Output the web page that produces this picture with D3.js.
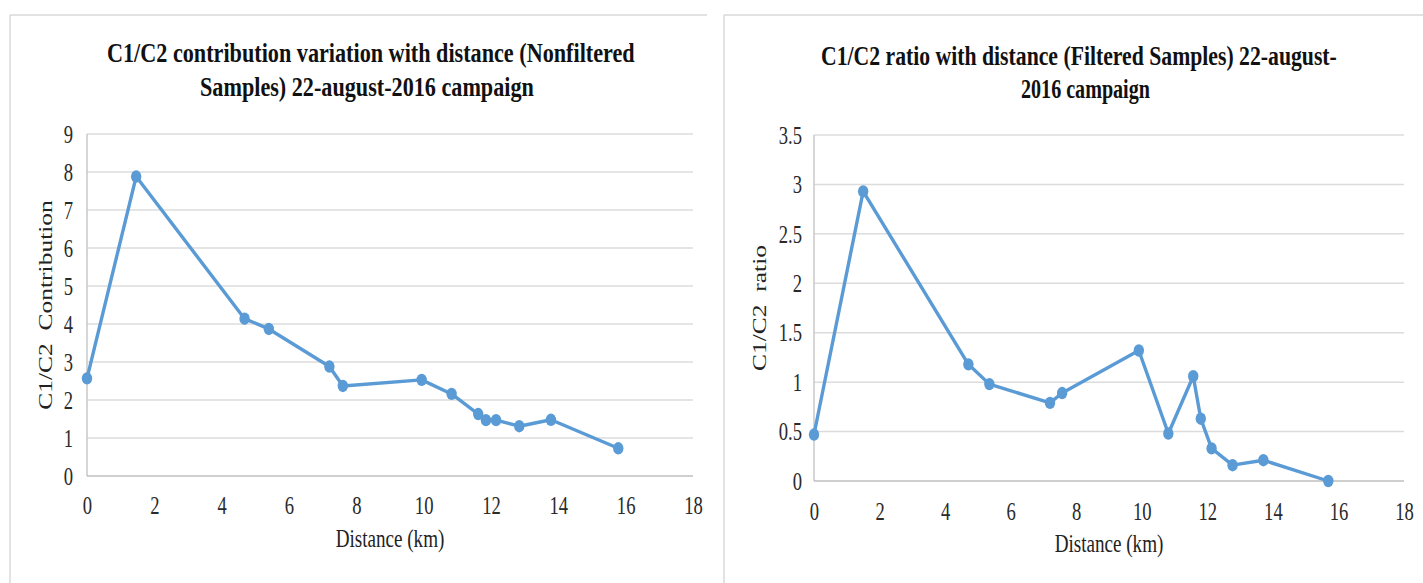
<!DOCTYPE html>
<html>
<head>
<meta charset="utf-8">
<script src="https://cdn.jsdelivr.net/npm/d3@7"></script>
<style>
  html, body { margin: 0; padding: 0; background: #fff; }
  svg { display: block; }
  text { font-family: "Liberation Serif", "Times New Roman", serif; }
</style>
</head>
<body>
<svg id="chart" width="1423" height="583"></svg>
<script>
// ---- data ----
const distanceNonfiltered = [0, 1.46, 4.68, 5.4, 7.2, 7.6, 9.94, 10.83, 11.62, 11.85, 12.15, 12.84, 13.78, 15.78];
const contribution        = [2.57, 7.88, 4.14, 3.87, 2.88, 2.37, 2.53, 2.16, 1.63, 1.47, 1.47, 1.31, 1.48, 0.73];
const distanceFiltered    = [0, 1.5, 4.71, 5.35, 7.2, 7.57, 9.91, 10.81, 11.57, 11.8, 12.13, 12.77, 13.71, 15.69];
const ratio               = [0.47, 2.93, 1.18, 0.98, 0.79, 0.89, 1.32, 0.48, 1.06, 0.63, 0.33, 0.16, 0.21, 0];
const xTicks = [0, 2, 4, 6, 8, 10, 12, 14, 16, 18];
const yTicksContribution = [0, 1, 2, 3, 4, 5, 6, 7, 8, 9];
const yTicksRatio = [0, 0.5, 1, 1.5, 2, 2.5, 3, 3.5];
const titleNonfiltered = ["C1/C2 contribution variation with distance (Nonfiltered", "Samples) 22-august-2016 campaign"];
const titleFiltered = ["C1/C2 ratio with distance (Filtered Samples) 22-august-", "2016 campaign"];

const svg = d3.select("#chart");
const SX = 0.73;        // horizontal squeeze of the lettering
const FS = 25.5;        // base font size
const lineColor = "#5b9bd5";

// panel borders
function panelBorder(x0, x1) {
  svg.append("line").attr("x1", x0).attr("x2", x1).attr("y1", 15).attr("y2", 15)
    .attr("stroke", "#d9d9d9").attr("stroke-width", 1.5);
  svg.append("line").attr("x1", x0).attr("x2", x0).attr("y1", 15).attr("y2", 583)
    .attr("stroke", "#d9d9d9").attr("stroke-width", 1.5);
}
panelBorder(10, 707);
panelBorder(724, 1423);

function drawChart(cfg) {
  const x = d3.scaleLinear().domain([0, 18]).range([cfg.left, cfg.right]);
  const y = d3.scaleLinear().domain([0, cfg.yMax]).range([cfg.bottom, cfg.top]);
  const g = svg.append("g");

  // gridlines
  g.selectAll(".grid").data(cfg.yTicks.filter(d => d > 0)).enter().append("line")
    .attr("x1", cfg.left).attr("x2", cfg.right)
    .attr("y1", d => y(d)).attr("y2", d => y(d))
    .attr("stroke", "#dcdcdc").attr("stroke-width", 1.5);

  // axis lines
  g.append("line").attr("x1", cfg.left).attr("x2", cfg.left)
    .attr("y1", cfg.top).attr("y2", cfg.bottom).attr("stroke", "#c8c8c8").attr("stroke-width", 1.5);
  g.append("line").attr("x1", cfg.left).attr("x2", cfg.right)
    .attr("y1", cfg.bottom).attr("y2", cfg.bottom).attr("stroke", "#bfbfbf").attr("stroke-width", 1.5);

  // x axis
  const xa = g.append("g").attr("transform", `translate(0,${cfg.bottom})`)
    .call(d3.axisBottom(x).tickValues(xTicks).tickSize(0).tickPadding(cfg.xPad).tickFormat(d3.format("d")));
  xa.select(".domain").remove();
  xa.selectAll("text").attr("font-size", FS).attr("fill", "#2a2a2a")
    .attr("font-family", "Liberation Serif").attr("transform", `scale(${SX},1)`);

  // y axis
  const ya = g.append("g").attr("transform", `translate(${cfg.left},0)`)
    .call(d3.axisLeft(y).tickValues(cfg.yTicks).tickSize(0).tickFormat(d => String(d)));
  ya.select(".domain").remove();
  ya.selectAll("text").attr("font-size", FS).attr("fill", "#2a2a2a")
    .attr("font-family", "Liberation Serif")
    .attr("x", -cfg.yPad / SX).attr("transform", `scale(${SX},1)`);

  // line
  const pts = cfg.xs.map((d, i) => [d, cfg.ys[i]]);
  g.append("path").datum(pts)
    .attr("fill", "none").attr("stroke", lineColor).attr("stroke-width", 3.4)
    .attr("stroke-linejoin", "round")
    .attr("d", d3.line().x(d => x(d[0])).y(d => y(d[1])));
  g.selectAll(".mk").data(pts).enter().append("ellipse")
    .attr("cx", d => x(d[0])).attr("cy", d => y(d[1]))
    .attr("rx", 5.2).attr("ry", 6.2).attr("fill", lineColor);

  // axis titles
  g.append("text").text("Distance (km)")
    .attr("font-size", FS).attr("fill", "#222").attr("text-anchor", "middle")
    .attr("transform", `translate(${(cfg.left + cfg.right) / 2},${cfg.xTitleY}) scale(0.75,1)`);
  g.append("text").text(cfg.yTitle)
    .attr("font-size", FS).attr("fill", "#222").attr("text-anchor", "middle")
    .style("white-space", "pre")
    .attr("transform", `translate(${cfg.yTitleX},${(cfg.top + cfg.bottom) / 2}) rotate(-90) scale(1,${SX})`);

  // chart title (squeezed horizontally to the measured width)
  cfg.title.forEach((t, i) => {
    const txt = g.append("text").text(t)
      .attr("x", 0).attr("y", 0)
      .attr("font-size", 28).attr("font-weight", "bold").attr("fill", "#111");
    const natural = txt.node().getComputedTextLength() || cfg.titleLen[i];
    const s = cfg.titleLen[i] / natural;
    txt.attr("transform", `translate(${cfg.titleX[i]},${cfg.titleY[i]}) scale(${s},1)`);
  });
}

drawChart({
  left: 87, right: 693, top: 134, bottom: 476, yMax: 9,
  yTicks: yTicksContribution, xs: distanceNonfiltered, ys: contribution,
  xPad: 20, yPad: 14, xTitleY: 547, yTitleX: 52,
  yTitle: "C1/C2  Contribution",
  title: titleNonfiltered, titleX: [107, 200], titleY: [62, 96], titleLen: [528, 334]
});

drawChart({
  left: 814, right: 1404, top: 135, bottom: 481, yMax: 3.5,
  yTicks: yTicksRatio, xs: distanceFiltered, ys: ratio,
  xPad: 21, yPad: 12, xTitleY: 552, yTitleX: 766,
  yTitle: "C1/C2  ratio",
  title: titleFiltered, titleX: [821, 1021], titleY: [65, 98], titleLen: [516, 129]
});
</script>
</body>
</html>
